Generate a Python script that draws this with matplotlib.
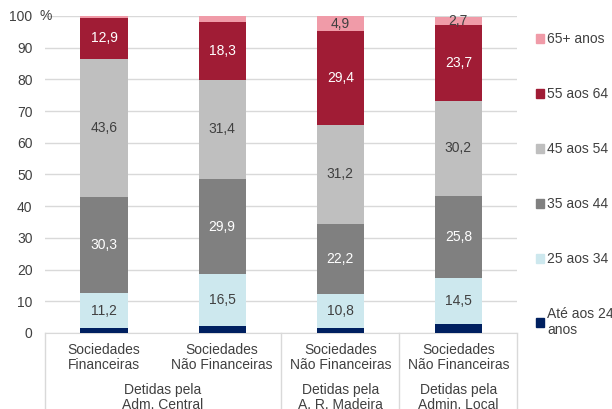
import matplotlib.pyplot as plt
from matplotlib.transforms import blended_transform_factory, offset_copy
from matplotlib.patches import Patch

plt.rcParams['font.family'] = ['Liberation Sans', 'DejaVu Sans']

# data (percentages by age bracket)
categories = ['Sociedades\nFinanceiras', 'Sociedades\nNão Financeiras',
              'Sociedades\nNão Financeiras', 'Sociedades\nNão Financeiras']
groups = ['Detidas pela\nAdm. Central', 'Detidas pela\nA. R. Madeira',
          'Detidas pela\nAdmin. Local']
group_spans = [(0, 1), (2, 2), (3, 3)]

series = ['Até aos 24\nanos', '25 aos 34', '35 aos 44', '45 aos 54', '55 aos 64', '65+ anos']
ate_24 = [1.4, 2.1, 1.5, 2.8]
a25_34 = [11.2, 16.5, 10.8, 14.5]
a35_44 = [30.3, 29.9, 22.2, 25.8]
a45_54 = [43.6, 31.4, 31.2, 30.2]
a55_64 = [12.9, 18.3, 29.4, 23.7]
a65 = [0.6, 1.8, 4.9, 2.7]
show_65 = [False, False, True, True]

values = [ate_24, a25_34, a35_44, a45_54, a55_64, a65]
colors = ['#002060', '#CDE8EE', '#808080', '#BFBFBF', '#A01C35', '#F09BA8']
text_colors = [None, '#404040', 'white', '#404040', 'white', '#404040']

fig = plt.figure(figsize=(6.12, 4.09), dpi=100)
ax = fig.add_axes([0.0735, 0.186, 0.772, 0.775])

x = list(range(len(categories)))
bottom = [0.0] * len(categories)
handles = []
for s, vals in enumerate(values):
    bars = ax.bar(x, vals, width=0.4, bottom=bottom, color=colors[s], zorder=3)
    handles.append(Patch(color=colors[s], label=series[s]))
    if text_colors[s] is not None:
        for i, v in enumerate(vals):
            if s == 5 and not show_65[i]:
                continue
            ax.text(x[i], bottom[i] + v / 2, f'{v:.1f}'.replace('.', ','),
                    ha='center', va='center', fontsize=10, color=text_colors[s], zorder=4)
    bottom = [b + v for b, v in zip(bottom, vals)]

ax.set_xlim(-0.5, 3.5)
ax.set_ylim(0, 100)
ax.set_yticks(range(0, 101, 10))
ax.set_yticklabels([str(t) for t in range(0, 101, 10)])
ax.tick_params(axis='y', length=0, labelsize=10, labelcolor='#404040', pad=9)
ax.set_xticks([])
ax.grid(axis='y', color='#D9D9D9', linewidth=1, zorder=0)
for sp in ['top', 'right', 'left']:
    ax.spines[sp].set_visible(False)
ax.spines['bottom'].set_color('#D9D9D9')

# percent sign after the top tick label
pct_tr = offset_copy(ax.transAxes, fig=fig, x=-5, y=0, units='dots')
ax.text(0, 1, '%', transform=pct_tr, ha='left', va='center', fontsize=10,
        color='#404040', clip_on=False, zorder=5)

# two-level category axis
tr = blended_transform_factory(ax.transData, ax.transAxes)
for i, c in enumerate(categories):
    ax.text(x[i], -0.077, c, transform=tr, ha='center', va='center', fontsize=10,
            color='#404040', linespacing=1.1, clip_on=False)
for g, (a, b) in zip(groups, group_spans):
    ax.text((a + b) / 2, -0.203, g, transform=tr, ha='center', va='center', fontsize=10,
            color='#404040', linespacing=1.1, clip_on=False)
for xs in [-0.5, 1.5, 2.5, 3.5]:
    ax.plot([xs, xs], [0, -0.3], transform=tr, color='#D9D9D9', linewidth=1, clip_on=False)

leg = fig.legend(handles=handles[::-1], loc='upper left', bbox_to_anchor=(0.866, 0.935),
                 frameon=False, fontsize=10, handlelength=0.6, handleheight=0.6,
                 handletextpad=0.25, labelspacing=2.95, borderaxespad=0)
for t in leg.get_texts():
    t.set_color('#404040')

fig.savefig('out.png', dpi=100)
